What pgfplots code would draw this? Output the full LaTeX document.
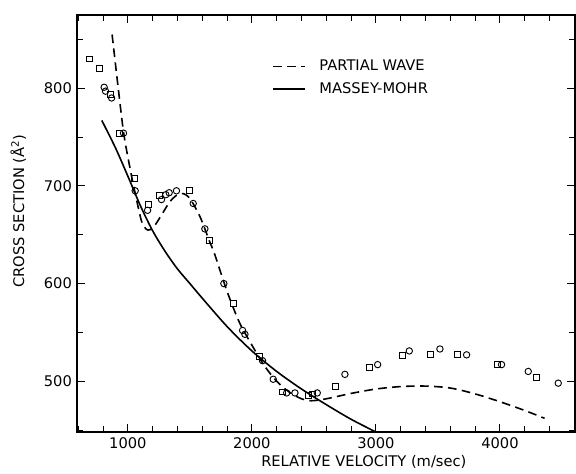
\documentclass[border=0pt]{standalone}
\usepackage{fontspec}
\setmainfont{DejaVu Sans}
\usepackage{pgfplots}
\pgfplotsset{compat=1.18}
\begin{document}
\fontsize{11}{13}\selectfont
\begin{tikzpicture}
\begin{axis}[
  scale only axis,
  width=373.5pt, height=312.75pt,
  xmin=590, xmax=4605, ymin=448, ymax=875,
  axis line style={line width=1.1pt},
  tick align=inside,
  tick style={line width=0.8pt, black},
  major tick length=6pt, minor tick length=4.5pt,
  xtick={1000,2000,3000,4000},
  minor xtick={600,800,...,4600},
  ytick={500,600,700,800},
  minor ytick={450,550,650,750,850},
  scaled ticks=false,
  /pgf/number format/1000 sep={},
  /pgf/number format/assume math mode=true,
  ticklabel style={font=\fontsize{11}{13}\selectfont},
  xlabel={RELATIVE VELOCITY (m/sec)},
  ylabel={CROSS SECTION (Å\textsuperscript{2})},
  xlabel style={at={(axis description cs:0.576,0)}, anchor=north, yshift=-14pt, font=\fontsize{11}{13}\selectfont},
  ylabel style={font=\fontsize{11}{13}\selectfont, at={(axis description cs:-0.118,0.53)}, anchor=center, rotate=0},
  legend style={draw=none, fill=none, at={(0.384,0.905)}, anchor=north west,
    font=\fontsize{11}{13}\selectfont, row sep=3pt},
  legend cell align=left,
  legend image code/.code={\draw[#1] (0pt,0pt) -- (24pt,0pt); \path (32pt,0pt);},
]
% partial wave (dashed)
\addplot[black, line width=1.2pt, dash pattern=on 6.5pt off 4pt, smooth, tension=0.5] coordinates {
(873,855) (927,795) (970,751) (1030,710) (1070,686) (1110,664) (1145,656)
(1177,655) (1220,660) (1280,672) (1340,684) (1400,691) (1450,692) (1495,688)
(1530,681) (1580,669) (1621,656) (1656,644) (1700,630) (1800,592) (1900,560)
(2000,537) (2100,516) (2200,500) (2300,489) (2400,482) (2480,480) (2600,482)
(2800,487.5) (3000,492) (3200,494.5) (3400,495) (3600,493) (3800,487)
(4000,479) (4200,470) (4360,462)
};
\addlegendentry{PARTIAL WAVE}
% Massey-Mohr (solid)
\addplot[black, line width=1.2pt, smooth] coordinates {
(790,767) (900,739) (1000,710) (1100,680) (1200,654) (1300,633) (1400,615)
(1500,600) (1600,585) (1800,556) (2000,531) (2200,510) (2400,492)
(2600,476) (2800,461) (3000,448)
};
\addlegendentry{MASSEY-MOHR}
% squares
\addplot[only marks, mark=square, mark size=2.2pt, mark options={black, line width=0.7pt, fill=white}, forget plot] coordinates {
(688,830) (770,820) (862,794) (935,754) (1051,708) (1163,681) (1258,690)
(1494,695) (1656,644) (1849,580) (2059,525) (2247,489) (2454,485) (2486,487)
(2677,495) (2946,514) (3215,526) (3438,527) (3659,527) (3981,517) (4296,504)
};
% circles
\addplot[only marks, mark=o, mark size=2.4pt, mark options={black, line width=0.7pt, fill=white}, forget plot] coordinates {
(809,801) (820,797) (869,790) (965,754) (1059,695) (1159,675) (1271,686)
(1306,691) (1333,693) (1392,695) (1527,682) (1621,656) (1774,600) (1925,552)
(1944,548) (2086,521) (2172,502) (2280,488) (2347,488) (2527,488) (2750,507)
(3014,517) (3269,531) (3516,533) (3731,527) (4013,517) (4228,510) (4470,498)
};
\end{axis}
\pgfresetboundingbox
\path (current axis.south west) ++(-57.75pt,-31.5pt) rectangle ++(432pt,355.5pt);
\end{tikzpicture}
\end{document}
